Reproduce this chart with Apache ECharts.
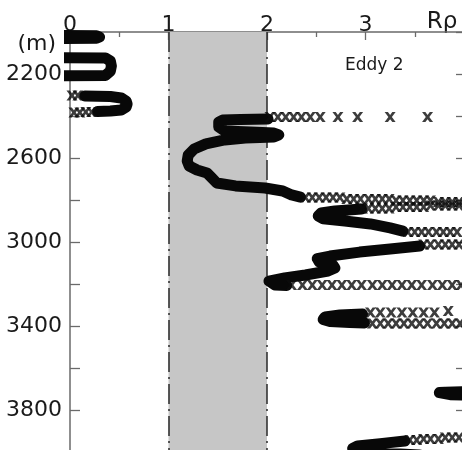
<!DOCTYPE html>
<html>
<head>
<meta charset="utf-8">
<script src="https://cdn.jsdelivr.net/npm/echarts@6/dist/echarts.min.js"></script>
<style>
html,body{margin:0;padding:0;background:#fff;}
#chart{width:462px;height:450px;}
</style>
</head>
<body>
<div id="chart"></div>
<script>
// Axis setup
const xTicks = [0, 1, 2, 3];
const depthLabels = [2200, 2600, 3000, 3400, 3800];
const shadeBand = [1, 2];

// Thick (densely sampled) parts of the R_rho profile: [R_rho, depth m]
const segA = [[-0.30,2016],[0.27,2018],[0.30,2024],[0.27,2030],[-0.30,2032]];
const segB = [[-0.30,2121],[0.36,2124],[0.41,2138],[0.42,2162],[0.41,2186],[0.36,2207],[-0.30,2210]];
const segC = [[0.15,2305],[0.41,2307],[0.52,2314],[0.57,2329],[0.58,2343],[0.57,2357],[0.52,2371],[0.41,2376],[0.28,2379]];
const segD = [[2.01,2414],[1.73,2417],[1.55,2419],[1.51,2429],[1.51,2452],[1.57,2471],[1.83,2476],[2.07,2481],[2.12,2490],[2.07,2500],[1.78,2505],[1.57,2514],[1.38,2533],[1.26,2557],[1.20,2586],[1.19,2614],[1.21,2638],[1.29,2657],[1.39,2671],[1.44,2695],[1.49,2719],[1.68,2733],[1.98,2743],[2.16,2757],[2.25,2776],[2.34,2786]];
const segE = [[2.96,2843],[2.69,2852],[2.55,2862],[2.52,2876],[2.57,2890],[2.79,2900],[3.05,2914],[3.25,2933],[3.38,2948]];
const segF = [[3.55,3019],[3.25,3033],[2.94,3048],[2.64,3067],[2.51,3079],[2.53,3095],[2.67,3110],[2.69,3124],[2.62,3138],[2.39,3157],[2.18,3171],[2.02,3186],[2.00,3195],[2.08,3205],[2.20,3207]];
const segG = [[2.97,3343],[2.74,3348],[2.59,3357],[2.57,3369],[2.64,3379],[2.84,3383],[2.99,3386]];
const segH = [[4.06,3713],[3.81,3715],[3.75,3717],[3.74,3721],[3.77,3725],[3.86,3727],[4.06,3729]];
const segI = [[3.40,3948],[3.15,3960],[2.92,3971],[2.87,3983],[2.92,3995],[3.15,4005],[3.55,4014]];

// Sparse samples, drawn as individual x markers: [R_rho, depth m]
const markC = [[0.02,2302],[0.08,2302],[0.04,2383],[0.10,2383],[0.16,2381],[0.22,2381]];
const markD = [[2.03,2405],[2.11,2405],[2.19,2405],[2.27,2405],[2.35,2405],[2.44,2405],[2.54,2405],[2.72,2405],[2.92,2405],[3.25,2405],[3.63,2405]];
const markD2 = [[2.39,2788],[2.46,2788],[2.53,2788],[2.60,2788],[2.67,2788],[2.74,2788],[2.81,2795],[2.88,2795],[2.95,2795],[3.03,2795],[3.10,2795],[3.17,2795],[3.24,2795],[3.31,2802],[3.38,2802],[3.45,2802],[3.52,2802],[3.59,2802],[3.66,2802],[3.74,2810],[3.81,2810],[3.88,2810],[3.95,2810]];
const markE1 = [[3.95,2826],[3.88,2826],[3.81,2826],[3.74,2826],[3.66,2826],[3.59,2833],[3.52,2833],[3.45,2833],[3.38,2833],[3.31,2833],[3.24,2840],[3.17,2840],[3.10,2840],[3.03,2840],[2.97,2840]];
const markE2 = [[3.43,2952],[3.50,2952],[3.57,2952],[3.64,2952],[3.72,2952],[3.79,2952],[3.86,2952],[3.93,2952]];
const markF1 = [[3.95,3012],[3.88,3012],[3.81,3012],[3.74,3012],[3.66,3012],[3.59,3012]];
const markF2 = [[2.25,3205],[2.36,3205],[2.46,3205],[2.56,3205],[2.66,3205],[2.76,3205],[2.86,3205],[2.96,3205],[3.07,3205],[3.17,3205],[3.27,3205],[3.37,3205],[3.47,3205],[3.57,3205],[3.68,3205],[3.78,3205],[3.88,3205],[3.97,3205]];
const markG1 = [[3.05,3336],[3.15,3336],[3.26,3336],[3.37,3336],[3.48,3336],[3.59,3336],[3.70,3336],[3.84,3329]];
const markG2 = [[3.07,3388],[3.15,3388],[3.23,3388],[3.31,3388],[3.39,3388],[3.47,3388],[3.55,3388],[3.63,3388],[3.72,3388],[3.80,3388],[3.88,3388],[3.96,3388]];
const markI = [[3.95,3931],[3.88,3931],[3.81,3931],[3.74,3938],[3.66,3938],[3.59,3938],[3.52,3943],[3.45,3943]];

const segments = [segA, segB, segC, segD, segE, segF, segG, segH, segI];
const markerSets = [markC, markD, markD2, markE1, markE2, markF1, markF2, markG1, markG2, markI];

const xPath = 'path://M0,0 L3,0 L5,2.6 L7,0 L10,0 L6.6,4.5 L10,9 L7,9 L5,6.4 L3,9 L0,9 L3.4,4.5 Z';
const axisGray = '#6a6a6a';
const font = 'DejaVu Sans';

const series = [];
series.push({
  type: 'line', data: [], silent: true, z: 1,
  markArea: { silent: true, itemStyle: { color: '#c6c6c6' },
    data: [[{ xAxis: shadeBand[0] }, { xAxis: shadeBand[1] }]] },
  markLine: { silent: true, symbol: ['none', 'none'], label: { show: false },
    lineStyle: { type: [20, 5, 2, 5], color: '#2a2a2a', width: 1.5 },
    data: shadeBand.map(v => ({ xAxis: v })) }
});
segments.forEach(s => series.push({
  type: 'line', data: s, symbol: 'none', showSymbol: false, silent: true, z: 5, clip: true,
  lineStyle: { color: '#080808', width: 11, cap: 'round', join: 'round' }
}));
markerSets.forEach(m => series.push({
  type: 'scatter', data: m, symbol: xPath, symbolSize: [11, 10], silent: true, z: 6, clip: true,
  itemStyle: { color: '#0d0d0d' }
}));

const chart = echarts.init(document.getElementById('chart'), null, { renderer: 'canvas' });
chart.setOption({
  animation: false,
  backgroundColor: '#fff',
  grid: { left: 70, top: 32, width: 394, height: 420, containLabel: false, outerBoundsMode: 'none' },
  xAxis: {
    type: 'value', position: 'top', min: 0, max: 4, interval: 1,
    axisLine: { show: true, lineStyle: { color: axisGray, width: 1.5 } },
    axisTick: { show: true, inside: true, length: 8, lineStyle: { color: axisGray, width: 1.3 } },
    minorTick: { show: true, splitNumber: 2, length: 5, lineStyle: { color: axisGray, width: 1.3 } },
    splitLine: { show: false }, minorSplitLine: { show: false },
    axisLabel: { margin: -4, fontSize: 22, fontFamily: font, color: '#1a1a1a',
      formatter: v => xTicks.indexOf(v) >= 0 ? String(v) : '' }
  },
  yAxis: [{
    type: 'value', inverse: true, min: 2000, max: 4000, interval: 200, position: 'left',
    axisLine: { show: true, lineStyle: { color: axisGray, width: 1.5 } },
    axisTick: { show: true, inside: true, length: 10, lineStyle: { color: axisGray, width: 1.3 } },
    splitLine: { show: false },
    axisLabel: { margin: 8, fontSize: 22, fontFamily: font, color: '#1a1a1a',
      formatter: v => depthLabels.indexOf(v) >= 0 ? String(v) : '' }
  }, {
    type: 'value', inverse: true, min: 2000, max: 4000, interval: 200, position: 'right',
    axisLine: { show: true, lineStyle: { color: axisGray, width: 1.5 } },
    axisTick: { show: true, inside: true, length: 8, lineStyle: { color: axisGray, width: 1.3 } },
    splitLine: { show: false },
    axisLabel: { show: false }
  }],
  graphic: [
    { type: 'text', x: 56, y: 44, style: { text: '(m)', fontSize: 22, fontFamily: font, fill: '#1a1a1a', align: 'right', verticalAlign: 'middle' } },
    { type: 'text', x: 442, y: 22, style: { text: 'Rρ', fontSize: 23, fontFamily: font, fill: '#1a1a1a', align: 'center', verticalAlign: 'middle' } },
    { type: 'text', x: 345, y: 66, style: { text: 'Eddy 2', fontSize: 17, fontFamily: font, fill: '#1a1a1a', align: 'left', verticalAlign: 'middle' } }
  ],
  series: series
});
</script>
</body>
</html>
